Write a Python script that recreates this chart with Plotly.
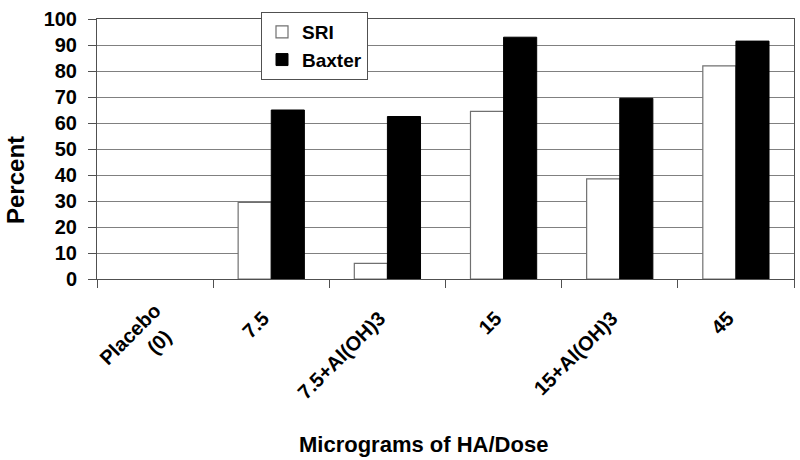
import plotly.graph_objects as go

# Dados
categorias = ['Placebo<br>(0)', '7.5', '7.5+Al(OH)3', '15', '15+Al(OH)3', '45']
sri = [0, 29.5, 6, 64.5, 38.5, 82]
baxter = [0, 65, 62.5, 93, 69.5, 91.5]
y_ticks = list(range(0, 101, 10))

FONTE = 'Liberation Sans, Arial, sans-serif'
NBSP = '\u00a0'

# no original as barras com valor zero não aparecem -> None no desenho
def sem_zero(vals):
    return [v if v != 0 else None for v in vals]

# rótulos com espaço no fim para afastar o texto do centro, como no Excel
rotulos = [c + NBSP * 2 for c in categorias]

fig = go.Figure()
fig.add_trace(go.Bar(
    x=rotulos, y=sem_zero(sri), name='SRI',
    marker=dict(color='white', line=dict(color='#707070', width=1.2))
))
fig.add_trace(go.Bar(
    x=rotulos, y=sem_zero(baxter), name='Baxter',
    marker=dict(color='black', line=dict(color='black', width=1))
))

fig.update_layout(
    width=800, height=460,
    margin=dict(l=97, r=6, t=19, b=181, autoexpand=False),
    paper_bgcolor='white', plot_bgcolor='white',
    barmode='group', bargap=0.43, bargroupgap=0,
    font=dict(family=FONTE, size=20, color='black'),
    showlegend=True,
    legend=dict(
        x=(261 - 97) / 697, y=(279 - 12) / 260, xanchor='left', yanchor='top',
        bgcolor='white', bordercolor='#505050', borderwidth=1,
        font=dict(family=FONTE, size=19, color='black', weight='bold'),
        tracegroupgap=0,
    ),
    xaxis=dict(
        type='category',
        tickangle=-45,
        tickfont=dict(family=FONTE, size=20, weight='bold'),
        showline=True, linecolor='#505050', linewidth=1, mirror=True,
        ticks='outside', ticklen=8, tickcolor='#505050',
        tickson='boundaries',
        ticklabelstandoff=11,
        showgrid=False,
    ),
    yaxis=dict(
        range=[0, 100],
        tickvals=y_ticks,
        tickfont=dict(family=FONTE, size=20, weight='bold'),
        showline=True, linecolor='#505050', linewidth=1, mirror=True,
        ticks='outside', ticklen=8, tickcolor='#505050',
        ticklabelstandoff=7,
        showgrid=True, gridcolor='#808080', gridwidth=1,
        zeroline=False,
    ),
    annotations=[
        dict(text='<b>Percent</b>', textangle=-90,
             xref='paper', yref='paper', x=(15 - 97) / 697, y=(279 - 180) / 260,
             xanchor='center', yanchor='middle', showarrow=False,
             font=dict(family=FONTE, size=24, color='black')),
        dict(text='<b>Micrograms of HA/Dose</b>',
             xref='paper', yref='paper', x=(423 - 97) / 697, y=(279 - 444) / 260,
             xanchor='center', yanchor='middle', showarrow=False,
             font=dict(family=FONTE, size=22, color='black')),
    ],
)

# tira a margem padrão do <body> para o gráfico ocupar a janela toda
fig.write_html('out.html', config={'displayModeBar': False},
               post_script="document.body.style.margin='0';")
